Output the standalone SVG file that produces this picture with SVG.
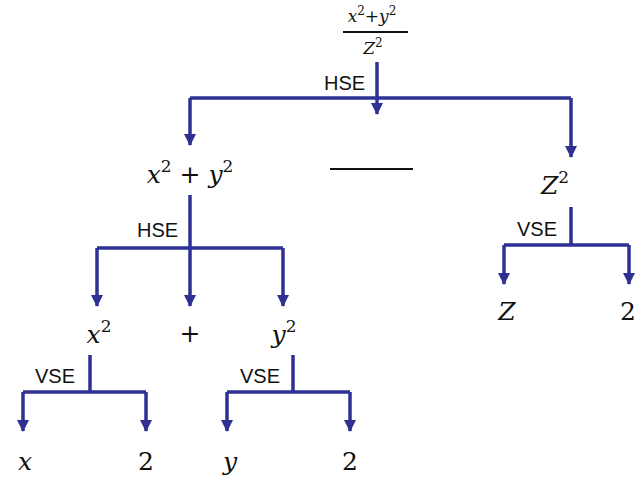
<svg xmlns="http://www.w3.org/2000/svg" width="644" height="479" viewBox="0 0 644 479">
<style>
.c{fill:none;stroke:#2E3192;stroke-width:3.5;stroke-linejoin:miter}
.m{font-family:"DejaVu Serif","Liberation Serif",serif;font-style:italic;fill:#111}
.n{font-family:"DejaVu Serif","Liberation Serif",serif;fill:#111}
.l{font-family:"Liberation Sans",Arial,sans-serif;font-size:20px;fill:#111}
</style>
<defs>
<marker id="ah" markerUnits="userSpaceOnUse" markerWidth="12" markerHeight="12" viewBox="0 0 12 12" refX="11" refY="6" orient="auto">
<path d="M0,0 L12,6 L0,12 Z" fill="#2E3192"/>
</marker>
</defs>
<rect width="644" height="479" fill="#fff"/>
<g id="connectors">
<path class="c" d="M377,62 V98" stroke-width="5"/>
<path class="c" d="M377,98 V114" marker-end="url(#ah)"/>
<path class="c" d="M190,98 H571"/>
<path class="c" d="M190,98 V145" marker-end="url(#ah)"/>
<path class="c" d="M571,98 V157" marker-end="url(#ah)"/>
<path class="c" d="M190,195 V306" marker-end="url(#ah)"/>
<path class="c" d="M97,248 H283"/>
<path class="c" d="M97,248 V306" marker-end="url(#ah)"/>
<path class="c" d="M283,248 V306" marker-end="url(#ah)"/>
<path class="c" d="M90,355 V392 M23,392 H146"/>
<path class="c" d="M23,392 V431" marker-end="url(#ah)"/>
<path class="c" d="M146,392 V431" marker-end="url(#ah)"/>
<path class="c" d="M293,355 V392 M227,392 H350"/>
<path class="c" d="M227,392 V431" marker-end="url(#ah)"/>
<path class="c" d="M350,392 V431" marker-end="url(#ah)"/>
<path class="c" d="M571,207 V245 M504,245 H629"/>
<path class="c" d="M504,245 V284" marker-end="url(#ah)"/>
<path class="c" d="M629,245 V284" marker-end="url(#ah)"/>
<text class="l" x="324" y="90">HSE</text>
<text class="l" x="137" y="237">HSE</text>
<text class="l" x="35" y="383">VSE</text>
<text class="l" x="240" y="383">VSE</text>
<text class="l" x="517" y="236">VSE</text>
</g>
<g id="root">
<text class="m" x="372" y="22" font-size="17" text-anchor="middle">x<tspan font-style="normal" font-size="12" dy="-7">2</tspan><tspan font-style="normal" dy="7">+</tspan>y<tspan font-style="normal" font-size="12" dy="-7">2</tspan></text>
<line x1="343" y1="32" x2="408" y2="32" stroke="#111" stroke-width="1.8"/>
<text class="m" x="373" y="54" font-size="17" text-anchor="middle">Z<tspan font-style="normal" font-size="12" dy="-7">2</tspan></text>
</g>
<g id="node-sum">
<text class="m" x="190" y="183" font-size="25" text-anchor="middle">x<tspan font-style="normal" font-size="17" dy="-11">2</tspan><tspan font-style="normal" dy="11"> + </tspan>y<tspan font-style="normal" font-size="17" dy="-11">2</tspan></text>
</g>
<g id="divider">
<line x1="330" y1="169" x2="413" y2="169" stroke="#111" stroke-width="2"/>
</g>
<g id="node-z2">
<text class="m" x="555" y="194" font-size="25" text-anchor="middle">Z<tspan font-style="normal" font-size="17" dy="-11">2</tspan></text>
</g>
<g id="node-x2">
<text class="m" x="99" y="343" font-size="25" text-anchor="middle">x<tspan font-style="normal" font-size="17" dy="-11">2</tspan></text>
</g>
<g id="node-plus">
<text class="n" x="190" y="342" font-size="25" text-anchor="middle">+</text>
</g>
<g id="node-y2">
<text class="m" x="284" y="343" font-size="25" text-anchor="middle">y<tspan font-style="normal" font-size="17" dy="-11">2</tspan></text>
</g>
<g id="leaf-x">
<text class="m" x="25" y="470" font-size="25" text-anchor="middle">x</text>
</g>
<g id="leaf-x-2">
<text class="n" x="146" y="470" font-size="25" text-anchor="middle">2</text>
</g>
<g id="leaf-y">
<text class="m" x="230" y="470" font-size="25" text-anchor="middle">y</text>
</g>
<g id="leaf-y-2">
<text class="n" x="350" y="470" font-size="25" text-anchor="middle">2</text>
</g>
<g id="leaf-z">
<text class="m" x="507" y="320" font-size="25" text-anchor="middle">Z</text>
</g>
<g id="leaf-z-2">
<text class="n" x="628" y="320" font-size="25" text-anchor="middle">2</text>
</g>
</svg>
